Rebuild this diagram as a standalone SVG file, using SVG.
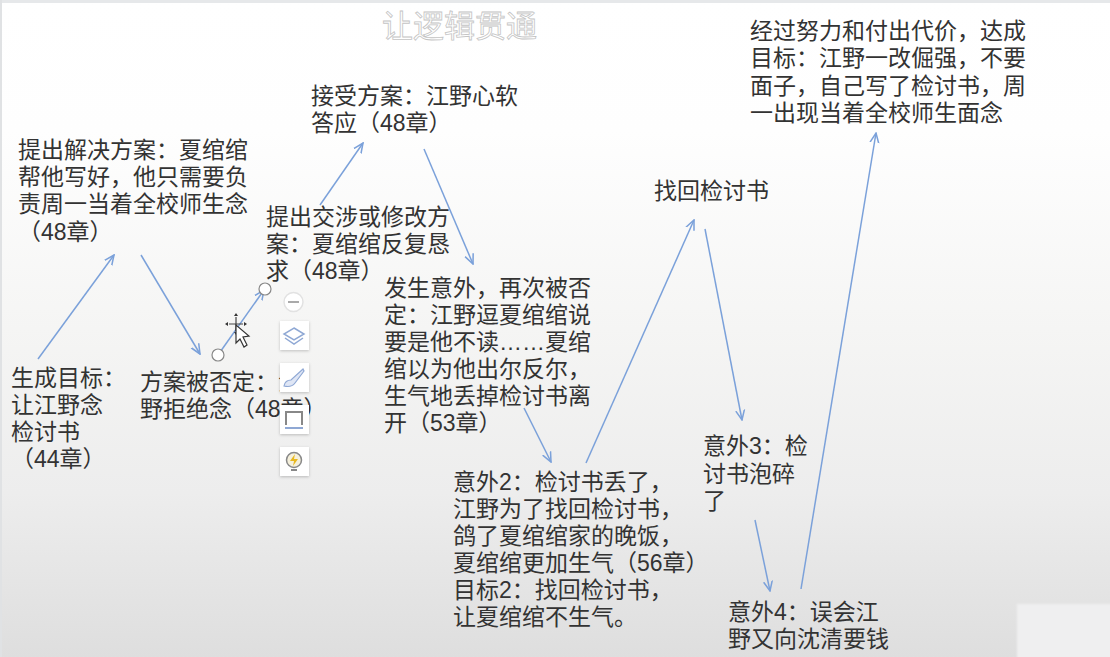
<svg xmlns="http://www.w3.org/2000/svg" width="1110" height="657" viewBox="0 0 1110 657">
<defs>
<linearGradient id="bg" x1="0" y1="0" x2="0" y2="1"><stop offset="0" stop-color="#ffffff"/><stop offset="0.2" stop-color="#fefefe"/><stop offset="0.5" stop-color="#f5f5f4"/><stop offset="0.75" stop-color="#ededed"/><stop offset="1" stop-color="#dedede"/></linearGradient>
<marker id="a" viewBox="0 0 10 10" refX="9" refY="5" markerWidth="11" markerHeight="11" markerUnits="userSpaceOnUse" orient="auto"><path d="M0 1L9 5L0 9" fill="none" stroke="#7ba1da" stroke-width="1.4"/></marker>
<filter id="s" x="-20%" y="-20%" width="140%" height="140%"><feDropShadow dx="0" dy="1" stdDeviation="1.5" flood-color="#000" flood-opacity=".22"/></filter>
<filter id="soft" x="-5%" y="-5%" width="110%" height="110%"><feGaussianBlur stdDeviation="1"/></filter>
</defs>
<style>
text{font-family:"Liberation Sans","Noto Sans CJK SC",sans-serif;font-size:23px;fill:#333}
.c{fill:none;stroke:#7ba1da;stroke-width:1.5;marker-end:url(#a)}
.b{fill:#fff;filter:url(#s)}
text.w{font-size:31px;fill:#fff;stroke:#c4c4c4;stroke-width:.8}
.i{fill:none;stroke:#8fa8d4;stroke-width:1.5}
</style>
<rect width="1110" height="657" fill="url(#bg)"/>
<rect width="1110" height="3" fill="#e6e8ea"/>
<rect width="2" height="657" fill="#e0e2e4"/>
<rect x="1017" y="604" width="100" height="60" fill="#efeff0" filter="url(#soft)"/>
<text class="w" x="382" y="37">让逻辑贯通</text>
<g id="connectors">
<path class="c" d="M38 359L114 255"/>
<path class="c" d="M141 255L200 354"/>
<path class="c" d="M218 355L264 290"/>
<path class="c" d="M320 205L363 143"/>
<path class="c" d="M424 149L473 264"/>
<path class="c" d="M524 408L551 462"/>
<path class="c" d="M586 463L694 220"/>
<path class="c" d="M705 229L742 420"/>
<path class="c" d="M755 520L770 591"/>
<path class="c" d="M801 589L876 133"/>
</g>
<g id="n1"><text x="11" y="386">生成目标：</text><text x="11" y="440" dy="-27">让江野念</text><text x="11" y="440">检讨书</text><text x="11" y="467">（44章）</text></g>
<g id="n2"><text x="18" y="158">提出解决方案：夏绾绾</text><text x="18" y="185">帮他写好，他只需要负</text><text x="18" y="212">责周一当着全校师生念</text><text x="18" y="240">（48章）</text></g>
<g id="n3"><text x="140" y="390">方案被否定：江</text><text x="140" y="417">野拒绝念（48章）</text></g>
<g id="n4"><text x="266" y="225">提出交涉或修改方</text><text x="266" y="252">案：夏绾绾反复恳</text><text x="266" y="279">求（48章）</text></g>
<g id="n5"><text x="311" y="104">接受方案：江野心软</text><text x="311" y="131">答应（48章）</text></g>
<g id="n6"><text x="384" y="296">发生意外，再次被否</text><text x="384" y="323">定：江野逗夏绾绾说</text><text x="384" y="350">要是他不读……夏绾</text><text x="384" y="377">绾以为他出尔反尔，</text><text x="384" y="404">生气地丢掉检讨书离</text><text x="384" y="431">开（53章）</text></g>
<g id="n7"><text x="453" y="490">意外2：检讨书丢了，</text><text x="453" y="517">江野为了找回检讨书，</text><text x="453" y="544">鸽了夏绾绾家的晚饭，</text><text x="453" y="571">夏绾绾更加生气（56章）</text><text x="453" y="598">目标2：找回检讨书，</text><text x="453" y="625">让夏绾绾不生气。</text></g>
<g id="n8"><text x="654" y="199">找回检讨书</text></g>
<g id="n9"><text x="703" y="454">意外3：检</text><text x="703" y="482">讨书泡碎</text><text x="703" y="509">了</text></g>
<g id="n10"><text x="728" y="620">意外4：误会江</text><text x="728" y="647">野又向沈清要钱</text></g>
<g id="n11"><text x="750" y="39">经过努力和付出代价，达成</text><text x="750" y="66">目标：江野一改倔强，不要</text><text x="750" y="94">面子，自己写了检讨书，周</text><text x="750" y="121">一出现当着全校师生面念</text></g>
<circle cx="293.500" cy="302" r="9.500" fill="#fff" stroke="#e2e2e2" stroke-width="1.500"/>
<path d="M288 302H299" stroke="#aaa" stroke-width="2"/>
<rect class="b" x="280" y="321" width="29" height="29"/>
<path class="i" d="M294 328L304 334L294 340L284 334ZM285 338L294 344L303 338"/>
<rect class="b" x="280" y="363" width="29" height="29"/>
<path d="M284 386C285 381 288 380 291 380L303 369L304 371L295 383C292 387 288 387 284 386Z" fill="#dfe6f5" stroke="#8fa8d4" stroke-width="1.200"/>
<rect class="b" x="280" y="405" width="29" height="29"/>
<path d="M286 425V412H302V425" fill="none" stroke="#888" stroke-width="2"/>
<path d="M285 428H303" stroke="#8fa8d4" stroke-width="2"/>
<rect class="b" x="280" y="447" width="29" height="29"/>
<circle cx="294" cy="460" r="7.500" fill="#f5f0dc" stroke="#888" stroke-width="1.500"/>
<path d="M295 454L290 461H294L293 466L298 459H294Z" fill="#e8b820"/>
<path d="M291 470H297" stroke="#888" stroke-width="2"/>
<circle cx="218" cy="355" r="6" fill="#fff" stroke="#888" stroke-width="1.200"/>
<circle cx="265" cy="289" r="6" fill="#fff" stroke="#888" stroke-width="1.200"/>
<path d="M229 324H243M236 317V331" stroke="#444" stroke-width="1.200"/>
<path d="M234 316H238L236 313ZM234 332H238L236 335ZM228 322V326L225 324ZM244 322V326L247 324Z" fill="#333"/>
<path d="M236 325L236 343L240 339L244 347L247 345L243 337L249 336Z" fill="#fff" stroke="#333" stroke-width="1.200"/>
</svg>
